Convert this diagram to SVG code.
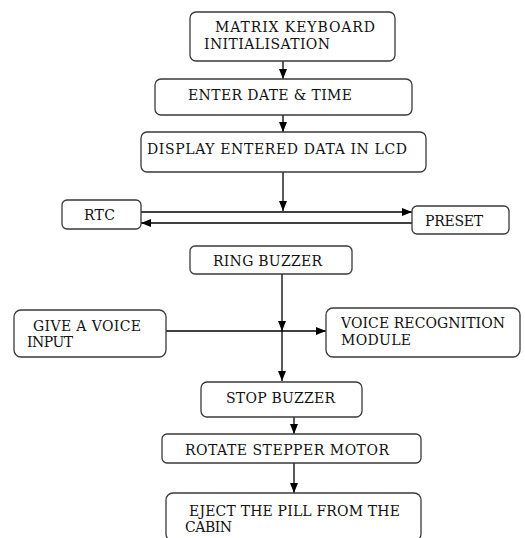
<svg xmlns="http://www.w3.org/2000/svg" width="525" height="538" viewBox="0 0 525 538">
<style>
.box{fill:#fff;stroke:#3a3a3a;stroke-width:1.3}
.t{font-family:"DejaVu Serif","Liberation Serif",serif;font-size:14px;fill:#111}
.c{stroke:#000;stroke-width:1.3;fill:none;marker-end:url(#ah)}
</style>
<defs>
<marker id="ah" markerUnits="userSpaceOnUse" markerWidth="10" markerHeight="10" viewBox="0 0 10 10" refX="10" refY="5" orient="auto">
<path d="M0,1 L10,5 L0,9 Z" fill="#000"/>
</marker>
</defs>
<rect width="525" height="538" fill="#fff"/>
<g id="connectors">
<line class="c" x1="283" y1="61" x2="283" y2="79"/>
<line class="c" x1="283" y1="115" x2="283" y2="132"/>
<line class="c" x1="283" y1="172" x2="283" y2="211"/>
<line class="c" x1="141" y1="212" x2="412" y2="212"/>
<line class="c" x1="412" y1="223" x2="141" y2="223"/>
<line class="c" x1="282" y1="274" x2="282" y2="331"/>
<line class="c" x1="166" y1="331" x2="326" y2="331"/>
<line class="c" x1="282" y1="331" x2="282" y2="381"/>
<line class="c" x1="294" y1="417" x2="294" y2="434"/>
<line class="c" x1="294" y1="463" x2="294" y2="493"/>
</g>
<g id="matrix">
<rect class="box" x="190" y="12" width="205" height="49" rx="6"/>
<text class="t" x="215" y="32" textLength="160">MATRIX KEYBOARD</text>
<text class="t" x="204" y="49" textLength="126">INITIALISATION</text>
</g>
<g id="enter">
<rect class="box" x="155" y="79" width="257" height="36" rx="6"/>
<text class="t" x="188" y="100" textLength="164">ENTER DATE &amp; TIME</text>
</g>
<g id="display">
<rect class="box" x="141" y="132" width="285" height="40" rx="6"/>
<text class="t" x="147" y="154" textLength="260">DISPLAY ENTERED DATA IN LCD</text>
</g>
<g id="rtc">
<rect class="box" x="62" y="200" width="79" height="29" rx="5"/>
<text class="t" x="84" y="220" textLength="31">RTC</text>
</g>
<g id="preset">
<rect class="box" x="412" y="206" width="97" height="28" rx="5"/>
<text class="t" x="425" y="226" textLength="58">PRESET</text>
</g>
<g id="ring">
<rect class="box" x="190" y="246" width="162" height="28" rx="5"/>
<text class="t" x="213" y="266" textLength="109">RING BUZZER</text>
</g>
<g id="voice">
<rect class="box" x="14" y="310" width="152" height="47" rx="7"/>
<text class="t" x="33" y="331" textLength="108">GIVE A VOICE</text>
<text class="t" x="27" y="347" textLength="46">INPUT</text>
</g>
<g id="vrm">
<rect class="box" x="326" y="308" width="194" height="49" rx="7"/>
<text class="t" x="341" y="328" textLength="164">VOICE RECOGNITION</text>
<text class="t" x="341" y="345" textLength="70">MODULE</text>
</g>
<g id="stop">
<rect class="box" x="201" y="382" width="161" height="35" rx="6"/>
<text class="t" x="226" y="403" textLength="109">STOP BUZZER</text>
</g>
<g id="rotate">
<rect class="box" x="162" y="434" width="259" height="29" rx="5"/>
<text class="t" x="185" y="455" textLength="204">ROTATE STEPPER MOTOR</text>
</g>
<g id="eject">
<rect class="box" x="166" y="493" width="255" height="48" rx="7"/>
<text class="t" x="189" y="516" textLength="211">EJECT THE PILL FROM THE</text>
<text class="t" x="185" y="532" textLength="47">CABIN</text>
</g>
</svg>
